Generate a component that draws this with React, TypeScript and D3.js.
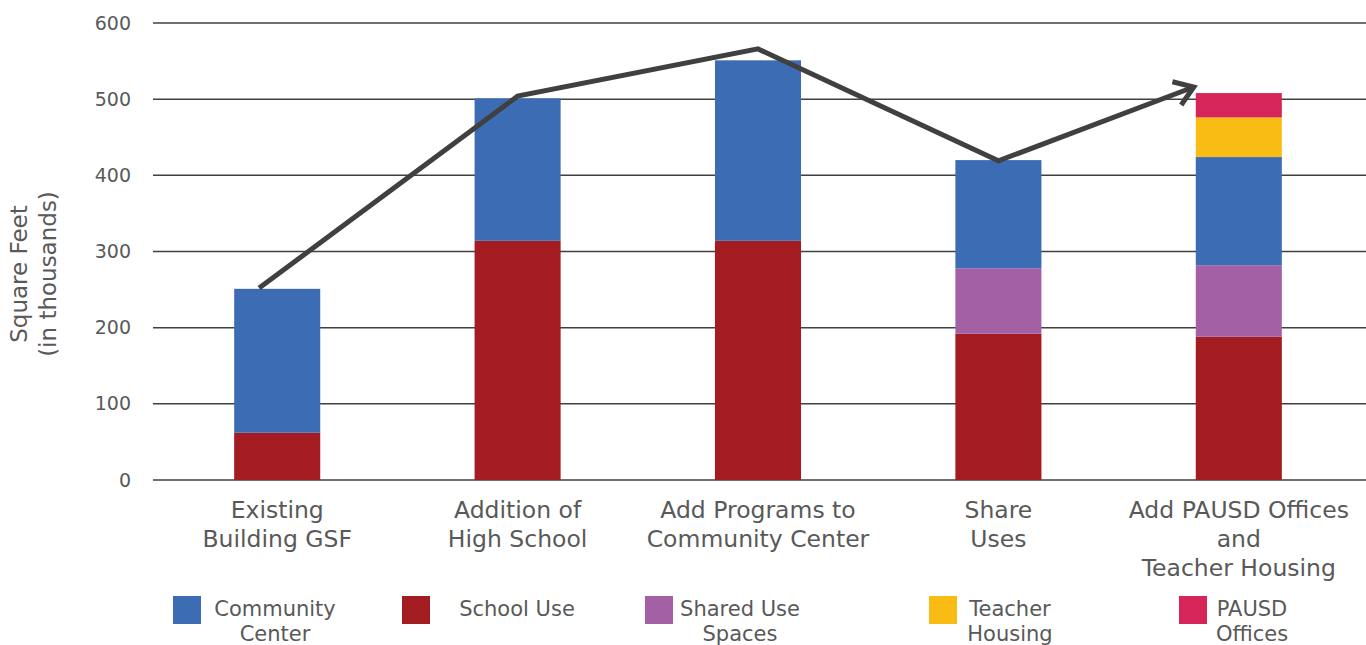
import React from "react";
import * as d3 from "d3";

const categories = [
  ["Existing", "Building GSF"],
  ["Addition of", "High School"],
  ["Add Programs to", "Community Center"],
  ["Share", "Uses"],
  ["Add PAUSD Offices", "and", "Teacher Housing"],
];
const seriesNames = ["School Use", "Shared Use Spaces", "Community Center", "Teacher Housing", "PAUSD Offices"];
const schoolUse = [62, 314, 314, 192, 188];
const sharedUse = [0, 0, 0, 86, 94];
const communityCenter = [189, 187, 237, 142, 142];
const teacherHousing = [0, 0, 0, 0, 52];
const pausdOffices = [0, 0, 0, 0, 32];
const trendLine = [252, 504, 566, 419, 516];
const yTicks = [0, 100, 200, 300, 400, 500, 600];
const colors = ["#A31C22", "#A460A5", "#3C6DB4", "#F9BC15", "#D62657"];

const legendItems = [
  { lines: ["Community", "Center"], color: "#3C6DB4" },
  { lines: ["School Use"], color: "#A31C22" },
  { lines: ["Shared Use", "Spaces"], color: "#A460A5" },
  { lines: ["Teacher", "Housing"], color: "#F9BC15" },
  { lines: ["PAUSD", "Offices"], color: "#D62657" },
];

export default function App() {
  const W = 1366, H = 645;
  const x = d3.scaleBand<number>().domain(d3.range(5)).range([157, 1359]).paddingInner(0.642).paddingOuter(0.321);
  const y = d3.scaleLinear().domain([0, 600]).range([480, 23]);
  const series = [schoolUse, sharedUse, communityCenter, teacherHousing, pausdOffices];
  const table = categories.map((_, i) => {
    const o: any = {};
    seriesNames.forEach((n, k) => (o[n] = series[k][i]));
    return o;
  });
  const stacked = d3.stack().keys(seriesNames)(table);
  const bw = x.bandwidth();
  const lineX = [
    (x(0) as number) + bw * 0.29,
    (x(1) as number) + bw / 2,
    (x(2) as number) + bw / 2,
    (x(3) as number) + bw / 2,
    (x(4) as number) - 2,
  ];
  const pts: [number, number][] = trendLine.map((v, i) => [lineX[i], y(v)]);
  const line = d3.line();
  const [ex, ey] = pts[4];
  const [px, py] = pts[3];
  const ang = Math.atan2(ey - py, ex - px);
  const al = 22;
  const a1: [number, number] = [ex - al * Math.cos(ang - 0.6), ey - al * Math.sin(ang - 0.6)];
  const a2: [number, number] = [ex - al * Math.cos(ang + 0.6), ey - al * Math.sin(ang + 0.6)];
  const legendX = [173, 402, 645, 929, 1179];
  const legendTextX = [275, 517, 740, 1010, 1252];
  const font = "'DejaVu Sans', sans-serif";
  const grey = "#595959";
  return (
    <svg width={W} height={H} style={{ position: "absolute", left: 0, top: 0 }} fontFamily={font}>
      {yTicks.map((t) => (
        <g key={t}>
          <line x1={153} x2={1366} y1={y(t)} y2={y(t)} stroke="#404040" strokeWidth={1.5} />
          <text x={131} y={y(t)} dy="0.35em" textAnchor="end" fontSize={19} fill={grey}>{t}</text>
        </g>
      ))}
      <text transform="translate(27,274) rotate(-90)" textAnchor="middle" fontSize={23} fill={grey}>
        <tspan x={0} y={0}>Square Feet</tspan>
        <tspan x={0} y={29}>(in thousands)</tspan>
      </text>
      {stacked.map((s, k) => (
        <g key={k} fill={colors[k]}>
          {s.map((d, i) =>
            d[1] > d[0] ? (
              <rect key={i} x={x(i)} width={bw} y={y(d[1])} height={y(d[0]) - y(d[1])} />
            ) : null
          )}
        </g>
      ))}
      <path d={line(pts) || ""} fill="none" stroke="#404040" strokeWidth={5} strokeLinejoin="miter" />
      <path d={line([a1, [ex, ey], a2]) || ""} fill="none" stroke="#404040" strokeWidth={5} strokeLinejoin="miter" />
      {categories.map((c, i) => (
        <text key={i} textAnchor="middle" fontSize={23.5} fill={grey}>
          {c.map((l, j) => (
            <tspan key={j} x={(x(i) as number) + bw / 2} y={518 + j * 29}>{l}</tspan>
          ))}
        </text>
      ))}
      {legendItems.map((it, i) => (
        <g key={i}>
          <rect x={legendX[i]} y={596} width={28} height={28} fill={it.color} />
          <text textAnchor="middle" fontSize={21} fill={grey}>
            {it.lines.map((l, j) => (
              <tspan key={j} x={legendTextX[i]} y={616 + j * 25}>{l}</tspan>
            ))}
          </text>
        </g>
      ))}
    </svg>
  );
}
